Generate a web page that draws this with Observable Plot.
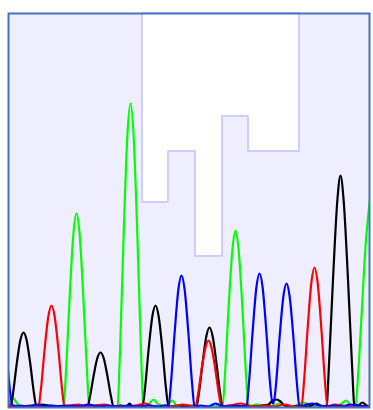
<!DOCTYPE html>
<html>
<head>
<meta charset="utf-8">
<script src="https://cdn.jsdelivr.net/npm/d3@7"></script>
<script src="https://cdn.jsdelivr.net/npm/@observablehq/plot@0.6"></script>
<style>
  html, body { margin: 0; padding: 0; background: #ffffff; }
  #chart svg { display: block; }
</style>
</head>
<body>
<div id="chart"></div>
<script>
// Chromatogram traces: [scan, signal]
const traceBlack = [[-2,0],[0,1],[2,0],[4.5,13],[8,41],[12,67],[15,74],[18,67],[22,41],[25.5,13],[28,0],[33,2],[40,1],[48,0],[56,1],[64,0],[72,1],[79,0],[81.5,10],[85,30],[89,49],[92,54],[95,49],[99,30],[102.5,10],[105,0],[112,1],[118,0],[121,3],[124,0],[130,1],[134,0],[136.5,18],[140,56],[144,91],[147,101],[150,91],[154,56],[157.5,18],[160,0],[170,1],[178,0],[185,1],[188,0],[190.5,14],[194,43],[198,71],[201,79],[204,71],[208,43],[211.5,14],[214,0],[222,1],[230,0],[238,1],[246,0],[254,1],[260,2],[264,6],[268,7],[272,5],[276,1],[284,0],[292,1],[300,0],[308,3],[312,1],[318,0],[320.5,42],[324.5,127],[329,208],[332,231],[335,208],[339.5,127],[343.5,42],[346,0],[350,1],[354,4],[358,1],[364,0]];
const traceRed = [[-2,0],[0,2],[6,1],[14,0],[22,1],[30,0],[32.5,18],[36,56],[40,91],[43,101],[46,91],[50,56],[53.5,18],[56,0],[62,1],[70,2],[78,0],[86,1],[96,2],[104,0],[112,1],[120,0],[128,1],[137,3],[142,1],[150,0],[158,1],[166,0],[174,2],[181,1],[187,0],[189.5,12],[193,36],[197,59],[200,66],[203,59],[207,36],[210.5,12],[213,0],[222,1],[232,3],[240,1],[248,0],[256,1],[266,0],[276,2],[286,0],[293,0],[295.5,25],[299,76],[303,125],[306,139],[309,125],[313,76],[316.5,25],[319,0],[326,2],[334,1],[342,0],[350,1],[358,0],[364,1]];
const traceGreen = [[-2,0],[0,3],[4,9],[8,4],[12,0],[20,1],[30,0],[40,1],[50,0],[55,0],[57.5,35],[61,106],[65,174],[68,193],[71,174],[75,106],[78.5,35],[81,0],[90,1],[100,0],[109,0],[111.5,55],[115,167],[119,273],[122,303],[125,273],[129,167],[132.5,55],[135,0],[140,2],[145,7],[150,2],[158,1],[164,6],[168,1],[176,0],[186,1],[196,0],[204,1],[214,0],[216.5,32],[220,97],[224,158],[227,176],[230,158],[234,97],[237.5,32],[240,0],[248,2],[256,1],[264,0],[270,3],[276,1],[284,0],[295,4],[302,1],[310,0],[318,1],[326,0],[332,2],[338,6],[342,1],[347,0],[349.5,30],[353,90],[357,160],[361,203],[365,235],[368,240]];
const traceBlue = [[-6,70],[-3,60],[0,31],[2,11],[5,0],[12,1],[20,0],[28,2],[36,0],[44,1],[52,0],[60,1],[70,0],[80,2],[90,0],[100,1],[110,0],[120,1],[130,0],[140,1],[150,0],[157,1],[160,0],[162.5,24],[166,72],[170,118],[173,131],[176,118],[180,72],[183.5,24],[186,0],[192,1],[200,0],[207,3],[212,1],[220,0],[228,1],[238,0],[240.5,24],[244,73],[248,120],[251,133],[254,120],[258,73],[261.5,24],[264,3],[265,3],[267.5,22],[271,68],[275,111],[278,123],[281,111],[285,68],[288.5,22],[291,0],[298,2],[304,3],[310,1],[318,0],[326,1],[334,0],[342,2],[350,1],[358,0],[364,1]];

// Quality bars hanging from the top: left edge scan and lower level
const qualityScan = [134, 160, 187, 214, 240, 266, 291];
const qualityLevel = [204, 255, 150, 290, 255, 255, 255];

const yTop = 393;
const quality = qualityScan.map((s, i) => ({scan: s, level: qualityLevel[i]}));

const traceColors = ["#00ff00", "#000000", "#ff0000", "#0000ff"];
const traces = [traceGreen, traceBlack, traceRed, traceBlue];

const chart = Plot.plot({
  width: 373,
  height: 410,
  marginLeft: 8,
  marginRight: 4,
  marginTop: 13,
  marginBottom: 3,
  x: {domain: [0, 361], axis: null},
  y: {domain: [-1, yTop], axis: null},
  style: {background: "#ffffff"},
  marks: [
    Plot.frame({fill: "#eeeeff"}),
    Plot.areaY(quality, {x: "scan", y1: yTop, y2: "level", curve: "step-after", fill: "#ffffff", stroke: "#cdcdff", strokeWidth: 2}),
    ...traces.map((t, i) => Plot.line(t, {x: d => d[0], y: d => d[1], stroke: traceColors[i], strokeWidth: 2.2, curve: "monotone-x", clip: true})),
    Plot.frame({stroke: "#4472c4", strokeWidth: 2})
  ]
});
document.getElementById("chart").append(chart);
</script>
</body>
</html>
